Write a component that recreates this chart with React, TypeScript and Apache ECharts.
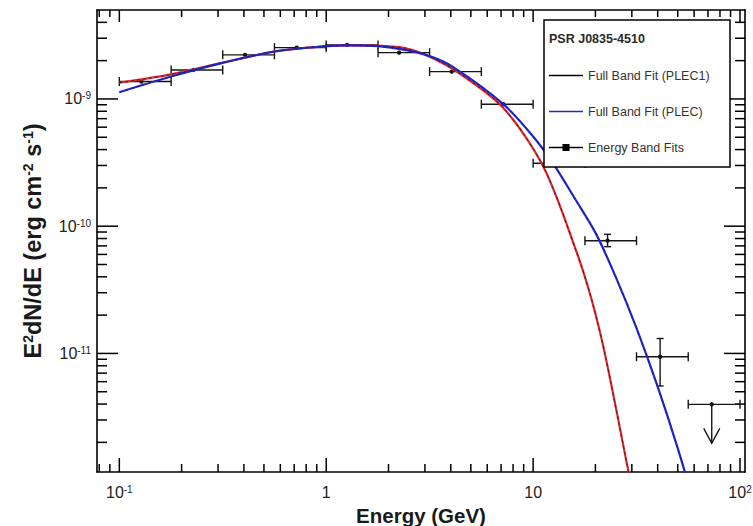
import React, { useEffect, useRef } from "react";
import * as echarts from "echarts";

// Energy band fits (E in GeV, E^2 dN/dE in erg cm^-2 s^-1)
const bandEnergy = [0.128, 0.228, 0.405, 0.72, 1.26, 2.25, 4.04, 7.18, 12.8, 22.9, 41.1, 73];
const bandEnergyLow = [0.1, 0.178, 0.316, 0.562, 1.0, 1.78, 3.16, 5.62, 10, 17.8, 31.6, 56.2];
const bandEnergyHigh = [0.178, 0.316, 0.562, 1.0, 1.78, 3.16, 5.62, 10, 17.8, 31.6, 56.2, 100];
const bandFlux = [1.37e-9, 1.69e-9, 2.22e-9, 2.53e-9, 2.66e-9, 2.31e-9, 1.64e-9, 9.09e-10, 3.12e-10, 7.69e-11, 9.42e-12, 3.98e-12];
const bandFluxLow = [1.35e-9, 1.67e-9, 2.2e-9, 2.51e-9, 2.64e-9, 2.29e-9, 1.62e-9, 8.95e-10, 3.05e-10, 6.9e-11, 5.55e-12, 3.98e-12];
const bandFluxHigh = [1.39e-9, 1.71e-9, 2.24e-9, 2.55e-9, 2.68e-9, 2.33e-9, 1.66e-9, 9.23e-10, 3.19e-10, 8.63e-11, 1.31e-11, 3.98e-12];
const bandUpperLimit = [0, 0, 0, 0, 0, 0, 0, 0, 0, 0, 0, 1];

// Full band fit, PLEC1 (red with dark dashes)
const plec1Energy = [0.1, 0.178, 0.316, 0.562, 1.0, 1.3, 1.78, 2.4, 3.14, 4.33, 7.18, 11.2, 16.2, 19.2, 22.3, 28.8, 31.6];
const plec1Flux = [1.34e-9, 1.56e-9, 1.93e-9, 2.36e-9, 2.6e-9, 2.64e-9, 2.62e-9, 2.51e-9, 2.16e-9, 1.62e-9, 8.5e-10, 2.94e-10, 6.3e-11, 2.63e-11, 9.7e-12, 1.21e-12, 5.6e-13];

// Full band fit, PLEC (blue)
const plecEnergy = [0.1, 0.178, 0.316, 0.562, 1.0, 1.3, 1.78, 2.4, 3.14, 4.11, 7.18, 10, 12.6, 15.8, 20, 25.1, 31.6, 39.8, 50.1, 63.1];
const plecFlux = [1.13e-9, 1.5e-9, 1.92e-9, 2.36e-9, 2.6e-9, 2.64e-9, 2.6e-9, 2.43e-9, 2.18e-9, 1.78e-9, 9.1e-10, 5.07e-10, 3.05e-10, 1.68e-10, 8.9e-11, 3.98e-11, 1.58e-11, 5.6e-12, 1.78e-12, 5.0e-13];

// Axis ranges and major tick values (decades)
const xRange = [0.078, 105.7];
const yRange = [1.17e-12, 5e-9];
const xMajor = [0.1, 1, 10, 100];
const yMajor = [1e-11, 1e-10, 1e-9];

const FONT = "'Liberation Sans', Arial, Helvetica, sans-serif";
const lg = Math.log10;

function minorTicks(minLog: number, maxLog: number): number[] {
  const out: number[] = [];
  for (let n = Math.floor(minLog) - 1; n <= Math.ceil(maxLog); n++) {
    for (let k = 2; k <= 9; k++) {
      const v = n + lg(k);
      if (v > minLog && v < maxLog) out.push(v);
    }
  }
  return out;
}

function powLabel(v: number): string {
  const n = Math.round(v);
  if (n === 0) return "{b|1}";
  if (n === 1) return "{b|10}";
  return `{b|10}{s|${n}}`;
}

const LINE_ICON = "path://M0 0H0.01V0.01H0Z M0 3.2H34V4.8H0Z M33.99 7.99H34V8H33.99Z";
const BAND_ICON = "path://M0 0H0.01V0.01H0Z M0 3.3H34V4.7H0Z M13.5 0.5H20.5V7.5H13.5Z M33.99 7.99H34V8H33.99Z";

export default function App() {
  const ref = useRef<HTMLDivElement>(null);

  useEffect(() => {
    if (!ref.current) return;
    const chart = echarts.init(ref.current, null, { renderer: "svg" });

    const xMin = lg(xRange[0]);
    const xMax = lg(xRange[1]);
    const yMin = lg(yRange[0]);
    const yMax = lg(yRange[1]);
    const xMaj = xMajor.map((v) => lg(v));
    const yMaj = yMajor.map((v) => lg(v));

    const tickRich = {
      b: { fontSize: 16, color: "#222", fontFamily: FONT },
      s: { fontSize: 10, color: "#222", fontFamily: FONT, verticalAlign: "top" as const },
    };

    const axisLineStyle = { color: "#000", width: 1.6 };
    const ink = "#151515";

    const bandData = bandEnergy.map((e, i) => [
      lg(e),
      lg(bandFlux[i]),
      lg(bandEnergyLow[i]),
      lg(bandEnergyHigh[i]),
      lg(bandFluxLow[i]),
      lg(bandFluxHigh[i]),
      bandUpperLimit[i],
    ]);

    const plec1Data = plec1Energy.map((e, i) => [lg(e), lg(plec1Flux[i])]);
    const plecData = plecEnergy.map((e, i) => [lg(e), lg(plecFlux[i])]);

    const curve = (extra: any) => ({
      type: "line",
      xAxisIndex: 0,
      yAxisIndex: 0,
      symbol: "none",
      showSymbol: false,
      smooth: 0.3,
      clip: true,
      silent: true,
      ...extra,
    });

    const legendBox = {
      type: "rect",
      id: "legendBox",
      z: 5,
      shape: { x: 544, y: 20, width: 186, height: 147 },
      style: { fill: "#fff", stroke: "#000", lineWidth: 1.5 },
    };

    const option: any = {
      animation: false,
      backgroundColor: "#fff",
      grid: { left: 97, right: 8, top: 10, bottom: 54, containLabel: false, outerBoundsMode: "none" },
      title: {
        text: "PSR J0835-4510",
        left: 549,
        top: 32,
        padding: 0,
        z: 8,
        textStyle: { fontSize: 12.5, fontWeight: "bold", color: "#2a2a2a", fontFamily: FONT },
      },
      legend: {
        orient: "vertical",
        left: 549,
        top: 69,
        padding: 0,
        itemWidth: 34,
        itemHeight: 8,
        itemGap: 23,
        selectedMode: false,
        z: 6,
        textStyle: { fontSize: 12.5, color: "#333", fontFamily: FONT },
        data: [
          { name: "Full Band Fit (PLEC1)", icon: LINE_ICON, itemStyle: { color: "#000", borderWidth: 0 } },
          { name: "Full Band Fit (PLEC)", icon: LINE_ICON, itemStyle: { color: "#2027d8", borderWidth: 0 } },
          { name: "Energy Band Fits", icon: BAND_ICON, itemStyle: { color: "#000", borderWidth: 0 } },
        ],
      },
      graphic: [legendBox],
      xAxis: [
        {
          type: "value",
          min: xMin,
          max: xMax,
          position: "bottom",
          splitLine: { show: false },
          axisLine: { show: true, onZero: false, lineStyle: axisLineStyle },
          axisTick: { show: false },
          axisLabel: { show: true, customValues: xMaj, margin: 12, formatter: powLabel, rich: tickRich, fontSize: 16, color: "#222", fontFamily: FONT },
          name: "Energy (GeV)",
          nameLocation: "middle",
          nameGap: 33,
          nameTextStyle: { fontSize: 20.5, fontWeight: "bold", color: "#1a1a1a", fontFamily: FONT },
        },
        {
          type: "value",
          min: xMin,
          max: xMax,
          position: "top",
          splitLine: { show: false },
          axisLine: { show: true, onZero: false, lineStyle: axisLineStyle },
          axisTick: { show: false },
          axisLabel: { show: false },
        },
      ],
      yAxis: [
        {
          type: "value",
          min: yMin,
          max: yMax,
          position: "left",
          splitLine: { show: false },
          axisLine: { show: true, onZero: false, lineStyle: axisLineStyle },
          axisTick: { show: false },
          axisLabel: { show: true, customValues: yMaj, margin: 6, formatter: powLabel, rich: tickRich, fontSize: 16, color: "#222", fontFamily: FONT },
          name: "{a|E}{s|2}{a|dN/dE (erg cm}{s|-2}{a| s}{s|-1}{a|)}",
          nameLocation: "middle",
          nameGap: 52,
          nameRotate: 90,
          nameTextStyle: {
            fontSize: 23.5,
            fontWeight: "bold",
            color: "#1a1a1a",
            fontFamily: FONT,
            rich: {
              a: { fontSize: 23.5, fontWeight: "bold", color: "#1a1a1a", fontFamily: FONT },
              s: { fontSize: 14, fontWeight: "bold", color: "#1a1a1a", fontFamily: FONT, verticalAlign: "top" },
            },
          },
        },
        {
          type: "value",
          min: yMin,
          max: yMax,
          position: "right",
          splitLine: { show: false },
          axisLine: { show: true, onZero: false, lineStyle: axisLineStyle },
          axisTick: { show: false },
          axisLabel: { show: false },
        },
      ],
      series: [
        {
          name: "Energy Band Fits",
          type: "custom",
          xAxisIndex: 0,
          yAxisIndex: 0,
          z: 2,
          itemStyle: { color: "#000" },
          encode: { x: [0, 2, 3], y: [1, 4, 5] },
          data: bandData,
          renderItem: (params: any, api: any) => {
            const x = api.value(0);
            const y = api.value(1);
            const p = api.coord([x, y]);
            const pl = api.coord([api.value(2), y]);
            const ph = api.coord([api.value(3), y]);
            const st = { stroke: ink, lineWidth: 1.4, fill: "none" };
            const cap = 4.5;
            const children: any[] = [
              { type: "line", shape: { x1: pl[0], y1: p[1], x2: ph[0], y2: p[1] }, style: st },
              { type: "line", shape: { x1: pl[0], y1: p[1] - cap, x2: pl[0], y2: p[1] + cap }, style: st },
              { type: "line", shape: { x1: ph[0], y1: p[1] - cap, x2: ph[0], y2: p[1] + cap }, style: st },
            ];
            if (api.value(6) === 1) {
              const tip = p[1] + 39;
              children.push({ type: "line", shape: { x1: p[0], y1: p[1], x2: p[0], y2: tip }, style: st });
              children.push({
                type: "polyline",
                shape: { points: [[p[0] - 8, tip - 15], [p[0], tip], [p[0] + 8, tip - 15]] },
                style: st,
              });
            } else {
              const lo = api.coord([x, api.value(4)]);
              const hi = api.coord([x, api.value(5)]);
              if (lo[1] - hi[1] > 3) {
                children.push({ type: "line", shape: { x1: p[0], y1: lo[1], x2: p[0], y2: hi[1] }, style: st });
                children.push({ type: "line", shape: { x1: p[0] - 3.5, y1: lo[1], x2: p[0] + 3.5, y2: lo[1] }, style: st });
                children.push({ type: "line", shape: { x1: p[0] - 3.5, y1: hi[1], x2: p[0] + 3.5, y2: hi[1] }, style: st });
              }
            }
            children.push({ type: "circle", shape: { cx: p[0], cy: p[1], r: 2.2 }, style: { fill: ink } });
            return { type: "group", children };
          },
        },
        curve({
          name: "PLEC1 curve",
          z: 3,
          data: plec1Data,
          lineStyle: { color: "#e3262b", width: 2.2 },
        }),
        curve({
          name: "Full Band Fit (PLEC1)",
          z: 3,
          data: plec1Data,
          itemStyle: { color: "#000" },
          lineStyle: { color: "#1a1a1a", width: 1, type: [3, 3], opacity: 0.75 },
        }),
        curve({
          name: "Full Band Fit (PLEC)",
          z: 4,
          data: plecData,
          itemStyle: { color: "#2027d8" },
          lineStyle: { color: "#2027d8", width: 2.2 },
        }),
        curve({
          name: "PLEC overlay",
          z: 4,
          data: plecData,
          lineStyle: { color: "#1a1a1a", width: 1, type: [3, 3], opacity: 0.55 },
        }),
      ],
    };

    chart.setOption(option);

    // Frame ticks positioned through the chart's own axis scales
    const toPx = (x: number, y: number) => chart.convertToPixel({ gridIndex: 0 } as any, [x, y]) as number[];
    const tickEls: any[] = [];
    const st = { stroke: "#000", lineWidth: 1.5 };
    const addX = (v: number, lb: number, lt: number) => {
      const b = toPx(v, yMin);
      const t = toPx(v, yMax);
      tickEls.push({ type: "line", z: 1, silent: true, shape: { x1: b[0], y1: b[1], x2: b[0], y2: b[1] - lb }, style: st });
      tickEls.push({ type: "line", z: 1, silent: true, shape: { x1: t[0], y1: t[1], x2: t[0], y2: t[1] + lt }, style: st });
    };
    const addY = (v: number, len: number) => {
      const l = toPx(xMin, v);
      const r = toPx(xMax, v);
      tickEls.push({ type: "line", z: 1, silent: true, shape: { x1: l[0], y1: l[1], x2: l[0] + len, y2: l[1] }, style: st });
      tickEls.push({ type: "line", z: 1, silent: true, shape: { x1: r[0], y1: r[1], x2: r[0] - len, y2: r[1] }, style: st });
    };
    xMaj.forEach((v) => addX(v, 14, 12));
    minorTicks(xMin, xMax).forEach((v) => addX(v, 8, 7));
    yMaj.forEach((v) => addY(v, 21));
    minorTicks(yMin, yMax).forEach((v) => addY(v, 10));

    chart.setOption({ graphic: [legendBox, ...tickEls] });

    return () => {
      chart.dispose();
    };
  }, []);

  return (
    <div
      ref={ref}
      style={{ position: "fixed", left: 0, top: 0, width: 753, height: 526, background: "#fff" }}
    />
  );
}
